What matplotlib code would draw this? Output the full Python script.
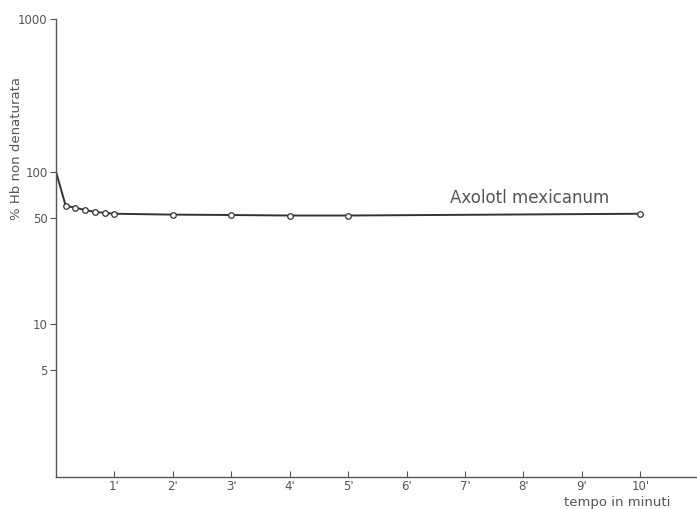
import matplotlib
matplotlib.use('Agg')
import matplotlib.pyplot as plt

# tempo in minuti (0 to 1' every 10 seconds, then whole minutes)
minutes = [0, 1/6, 2/6, 3/6, 4/6, 5/6, 1, 2, 3, 4, 5, 10]
hb_percent = [100, 59.7, 58, 56, 54.5, 53.7, 53, 52.3, 52, 51.6, 51.6, 53]

x_ticks = [1, 2, 3, 4, 5, 6, 7, 8, 9, 10]
x_tick_labels = ["1'", "2'", "3'", "4'", "5'", "6'", "7'", "8'", "9'", "10'"]
y_ticks = [5, 10, 50, 100, 1000]
y_tick_labels = ['5', '10', '50', '100', '1000']

grey = '#555555'
line_col = '#333333'

fig = plt.figure(figsize=(6.97, 5.09), dpi=100)
ax = fig.add_axes([0.0803, 0.0629, 0.918, 0.8998])

# line without the starting point marker
ax.plot(minutes, hb_percent, color=line_col, linewidth=1.4, zorder=2)
ax.plot(minutes[1:], hb_percent[1:], linestyle='none', marker='o', markersize=4,
        markerfacecolor='white', markeredgecolor=line_col, markeredgewidth=0.9, zorder=3)

ax.set_yscale('log')
ax.set_ylim(1, 1000)
ax.set_xlim(0, 10.95)
ax.minorticks_off()

ax.set_xticks(x_ticks)
ax.set_xticklabels(x_tick_labels)
ax.set_yticks(y_ticks)
ax.set_yticklabels(y_tick_labels)

ax.tick_params(axis='x', direction='in', length=4, width=0.8, colors=grey,
               labelsize=8.5, pad=2)
ax.tick_params(axis='y', direction='out', length=4, width=0.8, colors=grey,
               labelsize=8.5, pad=2)

for side in ['top', 'right']:
    ax.spines[side].set_visible(False)
for side in ['left', 'bottom']:
    ax.spines[side].set_color(grey)
    ax.spines[side].set_linewidth(1.0)

ax.text(6.75, 58.5, 'Axolotl mexicanum', color=grey, fontsize=12, ha='left', va='bottom')

fig.text(0.024, 0.709, '% Hb non denaturata', rotation=90, color=grey,
         fontsize=9.5, ha='center', va='center')
fig.text(0.886, 0.013, 'tempo in minuti', color=grey, fontsize=9.5,
         ha='center', va='center')

fig.savefig('out.png', dpi=100)
